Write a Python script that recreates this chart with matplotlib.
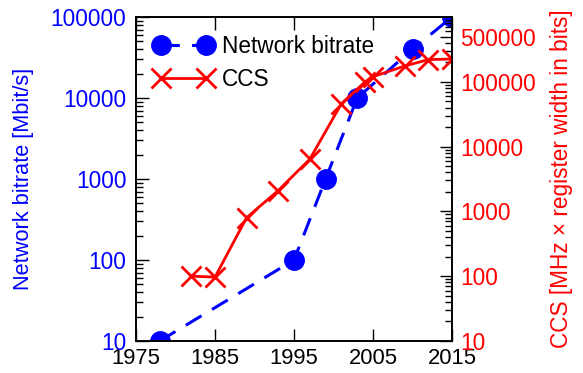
import matplotlib
matplotlib.use("Agg")
import matplotlib.pyplot as plt
from matplotlib.ticker import LogLocator, FixedLocator, NullFormatter

plt.rcParams['font.family'] = ['Liberation Sans', 'DejaVu Sans']

net_years = [1978, 1995, 1999, 2003, 2010, 2015]
net_values = [10, 100, 1000, 10000, 40000, 100000]

ccs_years = [1982, 1985, 1989, 1993, 1997, 2001, 2004, 2005, 2009, 2012, 2015]
ccs_values = [100, 97, 800, 2100, 6400, 46000, 100000, 120000, 175000, 220000, 225000]

left_ticks = [10, 100, 1000, 10000, 100000]
right_ticks = [10, 100, 1000, 10000, 100000, 500000]
x_ticks = [1975, 1985, 1995, 2005, 2015]

fig = plt.figure(figsize=(5.83, 3.73), dpi=100)
ax = fig.add_axes([0.2333, 0.0858, 0.5420, 0.8686])
ax2 = ax.twinx()

fs = 16.3
l1, = ax.plot(net_years, net_values, color='#0000ff', linestyle=(0, (6, 4)), lw=2.2,
              marker='o', markersize=14, label='Network bitrate')
l2, = ax2.plot(ccs_years, ccs_values, color='#ff0000', lw=2.0,
               marker='x', markersize=14, markeredgewidth=2.0, label='CCS')

ax.set_xlim(1975, 2015)
ax.set_yscale('log')
ax.set_ylim(10, 100000)
ax2.set_yscale('log')
ax2.set_ylim(10, 1000000)

ax.set_xticks(x_ticks)
ax.set_xticklabels([str(t) for t in x_ticks])
ax.yaxis.set_major_locator(FixedLocator(left_ticks))
ax.set_yticklabels([str(t) for t in left_ticks])
ax.yaxis.set_minor_locator(LogLocator(base=10, subs=range(2, 10)))
ax.yaxis.set_minor_formatter(NullFormatter())
ax2.yaxis.set_major_locator(FixedLocator(right_ticks))
ax2.set_yticklabels([str(t) for t in right_ticks])
ax2.yaxis.set_minor_locator(LogLocator(base=10, subs=range(2, 10)))
ax2.yaxis.set_minor_formatter(NullFormatter())

ax.tick_params(axis='x', direction='in', top=True, bottom=True, length=9, width=1,
               labelsize=15.8, labelcolor='black', pad=5)
ax.tick_params(axis='y', which='major', direction='in', left=True, right=False, length=9, width=1,
               labelsize=fs, labelcolor='#0000ff', pad=7)
ax.tick_params(axis='y', which='minor', direction='in', left=True, right=False, length=5, width=1)
ax2.tick_params(axis='y', which='major', direction='in', right=True, left=False, length=9, width=1,
                labelsize=fs, labelcolor='#ff0000', pad=6)
ax2.tick_params(axis='y', which='minor', direction='in', right=True, left=False, length=5, width=1)

for a in (ax, ax2):
    for s in a.spines.values():
        s.set_linewidth(1.2)

ax.set_ylabel('Network bitrate [Mbit/s]', color='#0000ff', fontsize=15.7, labelpad=12)
ax2.set_ylabel('CCS [MHz \u00d7 register width in bits]', color='#ff0000', fontsize=16.3, labelpad=10)

ax2.legend([l1, l2], ['Network bitrate', 'CCS'], loc='upper left', frameon=False,
           fontsize=fs, numpoints=2, handlelength=2.6, borderaxespad=0.4,
           handletextpad=0.4, labelspacing=0.45)

fig.savefig('out.png', dpi=100)
